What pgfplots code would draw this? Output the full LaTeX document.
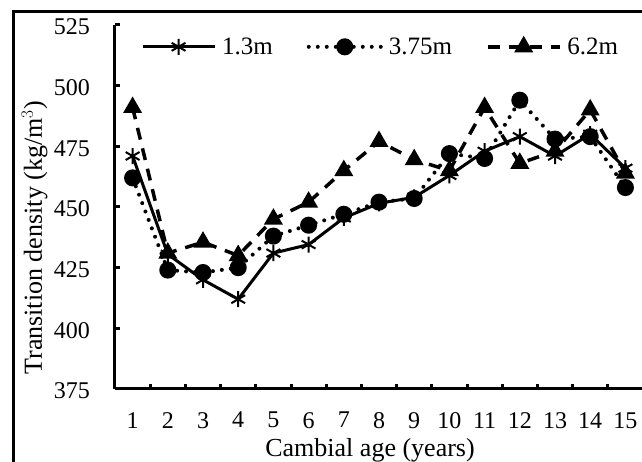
\documentclass[border=0pt]{standalone}
\usepackage{pgfplots}
\usepackage{pgfplotstable}
\pgfplotsset{compat=1.18}
\usepackage{fontspec}
\setmainfont{Liberation Serif}

% Transition density by cambial age at three sampling heights
\pgfplotstableread{
age  h13    h375   h62
1    471    462    491
2    430.5  424    431
3    420    423    435.5
4    412    425    430
5    431    438    445
6    434.5  442.5  452
7    445.5  447    465
8    451.5  452    477
9    454    453.5  469.5
10   463    472    465
11   473    470    491
12   479    494    468
13   471    478    473
14   480    479    490
15   466    458    464
}\densitytable

\newcommand{\tickfont}{\fontsize{24}{28}\selectfont}

\begin{document}
\begin{tikzpicture}[x=1pt,y=1pt]
\useasboundingbox (0,0) rectangle (642,462);
\clip (0,0) rectangle (642,462);
% chart frame
\draw[line width=3pt] (13.5,-10) -- (13.5,450) -- (660,450);
\begin{axis}[
  at={(115pt,73pt)}, anchor=south west,
  scale only axis, width=528pt, height=364pt,
  xmin=0.5, xmax=15.5, ymin=375, ymax=525,
  clip=false,
  axis x line*=bottom, axis y line*=left,
  axis line style={line width=3pt, -},
  xtick={0.5,1.5,...,15.5}, xticklabels={},
  extra x ticks={1,2,3,4,5,6,7,8,9,10,11,12,13,14,15},
  extra x tick labels={1,2,3,4,5,6,7,8,9,10,11,12,13,14,15},
  extra x tick style={major tick length=0pt},
  ytick={375,400,425,450,475,500,525},
  tick align=inside, major tick length=5pt,
  every tick/.style={black, line width=3pt},
  /pgf/number format/assume math mode=true,
  yticklabel style={font=\tickfont, inner sep=0pt, anchor=east, xshift=-25pt, yshift=-2pt},
  xticklabel style={font=\tickfont, inner sep=0pt, anchor=north, yshift=-23pt},
  every axis x label/.style={at={(axis description cs:0.483,-0.1868)}, anchor=base,
    font=\fontsize{26}{30}\selectfont},
  every axis y label/.style={at={(axis description cs:-0.1383,0.415)}, rotate=90, anchor=base,
    font=\fontsize{26}{30}\selectfont},
  xlabel={Cambial age (years)},
  ylabel={Transition density (kg/m$^{3}$)},
  legend columns=3,
  legend style={draw=none, fill=none, at={(axis description cs:0.049,0.94)}, anchor=west,
    inner sep=0pt, font=\fontsize{25}{29}\selectfont,
    /tikz/every odd column/.append style={column sep=4pt},
    /tikz/every even column/.append style={column sep=32pt}},
  legend image code/.code={\draw[mark repeat=2,mark phase=2,#1] plot coordinates {(0pt,0pt) (36pt,0pt) (72pt,0pt)};},
]
\addplot[black, line width=3pt, mark=asterisk, mark size=8pt, mark options={solid, line width=2pt}]
  table[x=age, y=h13] {\densitytable};
\addlegendentry{1.3m}
\addplot[black, line width=4pt, line cap=round, dash pattern=on 0pt off 9pt,
  mark=*, mark size=6.5pt, mark options={solid}]
  table[x=age, y=h375] {\densitytable};
\addlegendentry{3.75m}
\addplot[black, line width=3.5pt, dash pattern=on 12pt off 9pt,
  mark=triangle*, mark size=7.5pt, mark options={solid}]
  table[x=age, y=h62] {\densitytable};
\addlegendentry{6.2m}
\end{axis}
\end{tikzpicture}
\end{document}
